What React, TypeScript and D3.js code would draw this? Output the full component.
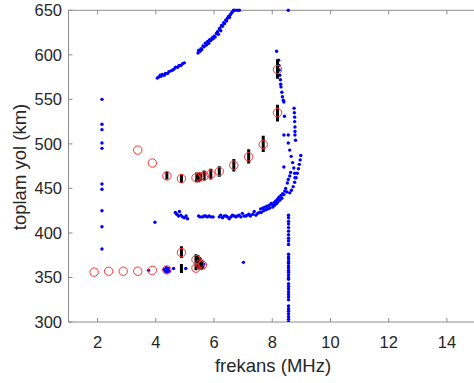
import React from "react";
import * as d3 from "d3";

const W = 474, H = 383;
const xTicks = [2, 4, 6, 8, 10, 12, 14];
const yTicks = [300, 350, 400, 450, 500, 550, 600, 650];

// blue points [f (MHz), km]
const colLeftKm = [550, 522, 516, 501, 495, 455, 449, 425, 407, 382];
const vertLineKm = [420, 417, 413, 410, 406, 402, 398, 394, 391, 387, 376, 373, 371, 368, 366, 363, 361, 358, 356, 353, 350, 348, 343, 340, 337, 334, 331, 328, 325, 318, 315, 312, 309, 306, 303, 300];
const lowerRow: [number, number][] = [
  [3.75, 358], [4.28, 359], [4.33, 357], [4.36, 361], [4.4, 358], [4.43, 360], [4.46, 357], [4.38, 356], [4.61, 360], [5.03, 360],
  [5.4, 373], [5.44, 369], [5.47, 366], [5.5, 363], [5.52, 371], [5.55, 361], [5.58, 367], [5.62, 362], [5.65, 365],
];
const isolated: [number, number][] = [[3.97, 412], [7.01, 367], [8.55, 650], [8.15, 604]];
const midBand: [number, number][] = [
  [4.67, 423], [4.72, 421], [4.78, 419], [4.81, 424], [4.86, 420], [4.92, 418], [4.98, 417], [5.04, 419], [5.09, 416],
  [5.47, 419], [5.52, 418], [5.6, 418], [5.66, 419], [5.71, 419], [5.77, 418], [5.83, 419], [5.9, 418], [5.97, 418],
  [6.18, 418], [6.23, 420], [6.29, 417], [6.35, 419], [6.41, 419], [6.46, 418], [6.52, 416], [6.58, 418], [6.63, 420], [6.69, 419],
  [6.75, 418], [6.8, 419], [6.86, 420], [6.92, 418], [6.97, 422], [7.03, 419], [7.09, 419], [7.15, 420], [7.2, 421], [7.25, 419],
  [7.33, 421], [7.38, 424], [7.44, 420], [7.5, 422], [7.55, 423],
  [7.6, 427], [7.62, 423], [7.68, 428], [7.7, 425], [7.75, 429], [7.78, 426], [7.82, 430], [7.85, 427], [7.89, 431], [7.92, 428],
  [7.96, 433], [8.0, 432], [8.02, 429], [8.06, 434], [8.08, 431], [8.12, 436], [8.15, 433], [8.18, 438], [8.2, 435], [8.23, 440],
  [8.27, 437], [8.3, 442], [8.33, 439], [8.36, 444], [8.4, 443], [8.43, 447], [8.46, 450], [8.5, 446],
];
const strands: [number, number][] = [
  [8.55, 501], [8.6, 493], [8.65, 486], [8.7, 479], [8.74, 473], [8.77, 467], [8.78, 462],
  [8.98, 487], [8.96, 482], [8.93, 477], [8.9, 472], [8.86, 467], [8.82, 462], [8.77, 457], [8.72, 452], [8.66, 448], [8.6, 445],
  [8.52, 456], [8.55, 460], [8.6, 464], [8.63, 468],
  [8.75, 540], [8.76, 535], [8.77, 530], [8.77, 525], [8.78, 519], [8.78, 514], [8.78, 510], [8.8, 504],
  [8.4, 510], [8.55, 510], [8.4, 474], [8.4, 547], [8.42, 531],
  [8.22, 594], [8.23, 588], [8.24, 583], [8.26, 577], [8.28, 572], [8.29, 567], [8.3, 564], [8.33, 558], [8.35, 553], [8.38, 549],
];
const upperCurve: [number, number][] = [
  [4.05, 574], [4.1, 575], [4.15, 577], [4.18, 576], [4.22, 578], [4.29, 577], [4.33, 579], [4.4, 579], [4.45, 581], [4.52, 582],
  [4.58, 583], [4.63, 584], [4.68, 586], [4.75, 586], [4.8, 588], [4.86, 588], [4.92, 590], [4.98, 591],
  [5.45, 602], [5.47, 605], [5.52, 604], [5.55, 607], [5.58, 606], [5.62, 610], [5.66, 609], [5.7, 613], [5.74, 611], [5.78, 615],
  [5.82, 613], [5.85, 617], [5.89, 616], [5.93, 619], [5.97, 618], [6.0, 621], [6.04, 620], [6.08, 624], [6.12, 626], [6.15, 623],
  [6.18, 629], [6.2, 630], [6.23, 627], [6.26, 633], [6.29, 632], [6.33, 636], [6.36, 635], [6.4, 639], [6.43, 638], [6.46, 641],
  [6.5, 643], [6.53, 642], [6.56, 645], [6.6, 647], [6.63, 648], [6.67, 650], [6.72, 650], [6.8, 650], [6.87, 650],
];

// red circles
const circF = [1.88, 2.38, 2.88, 3.38, 3.88, 4.38, 4.88, 5.38, 5.38, 5.5, 5.6, 3.38, 3.88, 4.38, 4.88, 5.38, 5.5, 5.66, 5.89, 6.18, 6.68, 7.19, 7.69, 8.18, 8.18];
const circKm = [356, 357, 357, 357, 358, 358.5, 378, 370, 360.5, 365, 364, 493, 478.5, 464, 461, 462, 463, 464, 466, 469, 476, 485.5, 499.5, 583.5, 535];

// black bars [f, lo, hi]
const bars: [number, number, number][] = [
  [4.38, 460, 469], [4.88, 456, 466], [5.4, 457, 468], [5.47, 457, 467], [5.53, 458, 468], [5.66, 459, 470], [5.89, 460, 472],
  [6.18, 463, 475], [6.68, 469, 483], [7.19, 478, 494], [7.69, 491, 509], [8.18, 573, 595], [8.18, 525, 544],
  [4.88, 372, 385], [4.88, 355, 365], [5.38, 358, 376], [5.45, 360, 375], [5.5, 359, 372], [5.58, 359, 370],
];

export default function App() {
  const x = d3.scaleLinear().domain([1, 15]).range([68.5, 476]);
  const y = d3.scaleLinear().domain([300, 650]).range([322, 10.3]);
  const blue: [number, number][] = [
    ...colLeftKm.map((k) => [2.15, k] as [number, number]),
    ...vertLineKm.map((k) => [8.56, k] as [number, number]),
    ...lowerRow, ...isolated, ...midBand, ...strands, ...upperCurve,
  ];
  const axisColor = "#8c8c8c";
  const textColor = "#262626";
  const font = "'Liberation Sans', Arial, sans-serif";
  const x0 = x(1), y0 = y(300), yTop = y(650);
  return (
    <svg width={W} height={H} style={{ position: "fixed", left: 0, top: 0, background: "#fff" }} fontFamily={font}>
      <rect x={0} y={0} width={W} height={H} fill="#fff" />
      <line x1={x0} y1={yTop} x2={W} y2={yTop} stroke={axisColor} strokeWidth={1} />
      <line x1={x0} y1={y0} x2={W} y2={y0} stroke={axisColor} strokeWidth={1} />
      <line x1={x0} y1={yTop} x2={x0} y2={y0} stroke={axisColor} strokeWidth={1} />
      {xTicks.map((t) => (
        <g key={"xt" + t}>
          <line x1={x(t)} x2={x(t)} y1={y0} y2={y0 - 4} stroke={axisColor} />
          <line x1={x(t)} x2={x(t)} y1={yTop} y2={yTop + 4} stroke={axisColor} />
          <text x={x(t)} y={348} textAnchor="middle" fontSize={16.5} fill={textColor}>{t}</text>
        </g>
      ))}
      {yTicks.map((t) => (
        <g key={"yt" + t}>
          <line x1={x0} x2={x0 + 4} y1={y(t)} y2={y(t)} stroke={axisColor} />
          <text x={62} y={y(t) + 6} textAnchor="end" fontSize={16.5} fill={textColor}>{t}</text>
        </g>
      ))}
      <text x={273} y={372} textAnchor="middle" fontSize={18.5} fill={textColor}>frekans (MHz)</text>
      <text transform={`translate(25.5,167) rotate(-90)`} textAnchor="middle" fontSize={18.5} fill={textColor}>toplam yol (km)</text>
      <defs>
        <clipPath id="plot">
          <rect x={x0} y={yTop - 2} width={W} height={y0 - yTop + 2} />
        </clipPath>
      </defs>
      <g clipPath="url(#plot)">
        {blue.map(([f, k], i) => (
          <circle key={"b" + i} cx={x(f)} cy={y(k)} r={1.7} fill="#0000ff" />
        ))}
        {bars.map(([f, lo, hi], i) => (
          <line key={"k" + i} x1={x(f)} x2={x(f)} y1={y(lo)} y2={y(hi)} stroke="#000" strokeWidth={3} />
        ))}
        {circF.map((f, i) => (
          <circle key={"r" + i} cx={x(f)} cy={y(circKm[i])} r={4.2} fill="none" stroke="#ff3030" strokeWidth={1} />
        ))}
      </g>
    </svg>
  );
}
